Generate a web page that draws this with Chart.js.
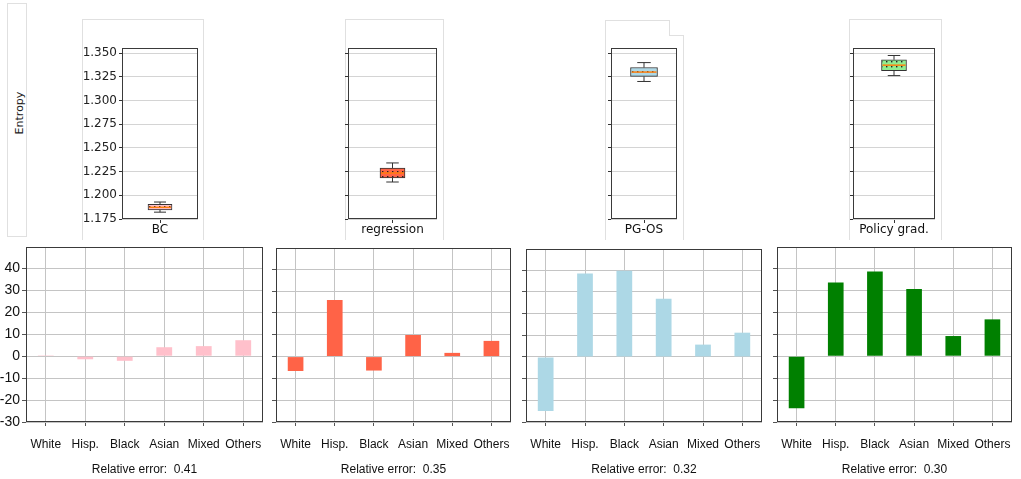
<!DOCTYPE html>
<html>
<head>
<meta charset="utf-8">
<script src="https://cdn.jsdelivr.net/npm/chart.js@4.4.1/dist/chart.umd.min.js"></script>
<style>
  html, body { margin: 0; padding: 0; background: #fff; }
  #fig { position: relative; width: 1021px; height: 479px; overflow: hidden; }
  .card { position: absolute; box-sizing: border-box; border: 1px solid #e0e0e0; }
  canvas { position: absolute; }
  #ylab { position: absolute; left: 19px; top: 113px; transform: translate(-50%, -50%) rotate(-90deg);
          white-space: nowrap; font: 11px "DejaVu Sans", sans-serif; color: #222; }
</style>
</head>
<body>
<div id="fig">
  <div class="card" style="left:7px;top:3px;width:20px;height:234px;"></div>
  <div id="ylab">Entropy</div>
  <div class="card" style="left:82px;top:19px;width:122px;height:221px;border-bottom:none;"></div>
  <div class="card" style="left:345px;top:19px;width:99px;height:221px;border-bottom:none;"></div>
  <div class="card" style="left:605px;top:20px;width:65px;height:16px;border-bottom:none;"></div>
  <div class="card" style="left:605px;top:35px;width:79px;height:205px;border-top:none;border-bottom:none;"></div>
  <div class="card" style="left:669px;top:35px;width:15px;height:1px;border:none;background:#e0e0e0;"></div>
  <div class="card" style="left:849px;top:19px;width:93px;height:221px;border-bottom:none;"></div>

  <canvas id="box0" width="122" height="224" style="left:82px;top:19px;"></canvas>
  <canvas id="box1" width="99" height="224" style="left:345px;top:19px;"></canvas>
  <canvas id="box2" width="79" height="224" style="left:605px;top:19px;"></canvas>
  <canvas id="box3" width="93" height="224" style="left:849px;top:19px;"></canvas>

  <canvas id="err0" width="268" height="239" style="left:0px;top:240px;"></canvas>
  <canvas id="err1" width="248" height="239" style="left:268px;top:240px;"></canvas>
  <canvas id="err2" width="252" height="239" style="left:516px;top:240px;"></canvas>
  <canvas id="err3" width="253" height="239" style="left:768px;top:240px;"></canvas>
</div>
<script>
// models and groups
const models = ["BC", "regression", "PG-OS", "Policy grad."];
const groups = ["White", "Hisp.", "Black", "Asian", "Mixed", "Others"];

// entropy box stats per model
const whiskerLow = [1.1822, 1.2140, 1.3200, 1.3262];
const q1 = [1.1845, 1.2182, 1.3253, 1.3315];
const median = [1.1873, 1.2235, 1.3299, 1.3372];
const q3 = [1.1905, 1.2288, 1.3347, 1.3429];
const whiskerHigh = [1.1929, 1.2341, 1.3399, 1.3474];
const entropyTicks = [1.175, 1.2, 1.225, 1.25, 1.275, 1.3, 1.325, 1.35];

// per-group error for each model
const bcErr = [0.4, -1.4, -2.1, 4.1, 4.6, 7.3];
const regErr = [-6.6, 26.0, -6.4, 9.9, 1.7, 7.2];
const pgosErr = [-24.9, 38.5, 39.8, 26.9, 5.7, 11.2];
const pgErr = [-23.7, 33.6, 38.6, 30.7, 9.2, 16.8];
const errTicks = [-30, -20, -10, 0, 10, 20, 30, 40];
const relError = ["0.41", "0.35", "0.32", "0.30"];

Chart.defaults.font.family = "'Liberation Sans', Arial, sans-serif";
Chart.defaults.color = "#111";

const boxColors = ["#ffc0cb", "#ff6347", "#add8e6", "#90ee90"];
const barColors = ["#ffc0cb", "#ff6347", "#add8e6", "#008000"];

// dotted hatch on top of a fill colour
function dotPattern(color) {
  const c = document.createElement("canvas");
  c.width = 5; c.height = 5;
  const g = c.getContext("2d");
  g.fillStyle = color;
  g.fillRect(0, 0, 5, 5);
  g.fillStyle = "#222";
  g.fillRect(2, 2, 1.4, 1.4);
  return g.createPattern(c, "repeat");
}

const framePlugin = {
  id: "frame",
  afterDraw(chart) {
    const { ctx, chartArea: a } = chart;
    ctx.save();
    ctx.strokeStyle = "#3a3a3a";
    ctx.lineWidth = 1;
    ctx.strokeRect(Math.round(a.left) + 0.5, Math.round(a.top) + 0.5,
                   Math.round(a.width) - 1, Math.round(a.height) - 1);
    ctx.restore();
  }
};

// whiskers, caps and median for the box charts
const whiskerPlugin = {
  id: "whiskers",
  afterDatasetsDraw(chart, args, opts) {
    const i = opts.index;
    const ctx = chart.ctx;
    const y = chart.scales.y;
    const bar = chart.getDatasetMeta(0).data[0];
    const x = bar.x, half = bar.width / 2, cap = bar.width / 4;
    ctx.save();
    ctx.strokeStyle = "#333";
    ctx.lineWidth = 1;
    ctx.beginPath();
    ctx.moveTo(x, y.getPixelForValue(whiskerHigh[i]));
    ctx.lineTo(x, y.getPixelForValue(q3[i]));
    ctx.moveTo(x, y.getPixelForValue(q1[i]));
    ctx.lineTo(x, y.getPixelForValue(whiskerLow[i]));
    ctx.moveTo(x - cap, y.getPixelForValue(whiskerHigh[i]));
    ctx.lineTo(x + cap, y.getPixelForValue(whiskerHigh[i]));
    ctx.moveTo(x - cap, y.getPixelForValue(whiskerLow[i]));
    ctx.lineTo(x + cap, y.getPixelForValue(whiskerLow[i]));
    ctx.stroke();
    ctx.strokeStyle = "#ff7f0e";
    ctx.lineWidth = 1.5;
    ctx.beginPath();
    ctx.moveTo(x - half + 1, y.getPixelForValue(median[i]));
    ctx.lineTo(x + half - 1, y.getPixelForValue(median[i]));
    ctx.stroke();
    ctx.restore();
  }
};

function fixSize(prop, size) {
  return s => {
    s[prop] = size;
    s.paddingTop = 0; s.paddingBottom = 0; s.paddingLeft = 0; s.paddingRight = 0;
  };
}

// top row: entropy box plots
const boxLayout = [
  { yw: 40, right: 6, width: 24, labels: true },
  { yw: 3, right: 7, width: 25, labels: false },
  { yw: 6, right: 7, width: 27, labels: false },
  { yw: 4, right: 7, width: 25, labels: false }
];

models.forEach((m, i) => {
  const L = boxLayout[i];
  new Chart(document.getElementById("box" + i), {
    type: "bar",
    data: {
      labels: [m],
      datasets: [{
        data: [[q1[i], q3[i]]],
        backgroundColor: dotPattern(boxColors[i]),
        borderColor: "#333",
        borderWidth: 1,
        borderSkipped: false,
        barThickness: L.width
      }]
    },
    options: {
      responsive: false,
      animation: false,
      layout: { padding: { top: 29, right: L.right, left: 0, bottom: 0 } },
      plugins: { legend: { display: false }, tooltip: { enabled: false }, whiskers: { index: i } },
      scales: {
        x: {
          afterFit: fixSize("height", 24),
          grid: { drawOnChartArea: false, offset: false, tickLength: 4, tickColor: "#333" },
          border: { display: false },
          ticks: { padding: 0, maxRotation: 0, color: "#111", font: { family: "'DejaVu Sans', sans-serif", size: 12 } }
        },
        y: {
          min: 1.175,
          max: 1.3553,
          afterFit: fixSize("width", L.yw),
          afterBuildTicks: s => { s.ticks = entropyTicks.map(v => ({ value: v })); },
          grid: { color: "#d4d4d4", tickColor: "#333", tickLength: 3 },
          border: { display: false },
          ticks: {
            padding: 2,
            color: "#222",
            font: { family: "'DejaVu Sans', sans-serif", size: 12 },
            callback: v => (L.labels ? v.toFixed(3) : "")
          }
        }
      }
    },
    plugins: [whiskerPlugin, framePlugin]
  });
});

// bottom row: error per group
const errSeries = [bcErr, regErr, pgosErr, pgErr];
const errLayout = [
  { yw: 26, top: 7, right: 5, labels: true },
  { yw: 8, top: 8, right: 5, labels: false },
  { yw: 10, top: 9, right: 6, labels: false },
  { yw: 9, top: 7, right: 9, labels: false }
];

errSeries.forEach((vals, i) => {
  const L = errLayout[i];
  new Chart(document.getElementById("err" + i), {
    type: "bar",
    data: {
      labels: groups,
      datasets: [{
        data: vals,
        backgroundColor: barColors[i],
        borderWidth: 0,
        barPercentage: 0.4,
        categoryPercentage: 1
      }]
    },
    options: {
      responsive: false,
      animation: false,
      layout: { padding: { top: L.top, right: L.right, left: 0, bottom: 0 } },
      plugins: { legend: { display: false }, tooltip: { enabled: false } },
      scales: {
        x: {
          z: 1,
          afterFit: fixSize("height", 57),
          grid: { offset: false, color: "#c4c4c4", tickColor: "#555", tickLength: 4 },
          border: { display: false },
          ticks: { padding: 11, autoSkip: false, maxRotation: 0, minRotation: 0, color: "#111", font: { size: 12 } },
          title: {
            display: true,
            text: "Relative error:  " + relError[i],
            color: "#111",
            font: { size: 12 },
            padding: { top: 0, bottom: 2 }
          }
        },
        y: {
          z: 1,
          min: -30,
          max: 49.8,
          afterFit: fixSize("width", L.yw),
          afterBuildTicks: s => { s.ticks = errTicks.map(v => ({ value: v })); },
          grid: { color: "#c4c4c4", tickColor: "#555", tickLength: 4 },
          border: { display: false },
          ticks: {
            padding: 2,
            color: "#111",
            font: { size: 14 },
            callback: v => (L.labels ? String(v) : "")
          }
        }
      }
    },
    plugins: [framePlugin]
  });
});
</script>
</body>
</html>
